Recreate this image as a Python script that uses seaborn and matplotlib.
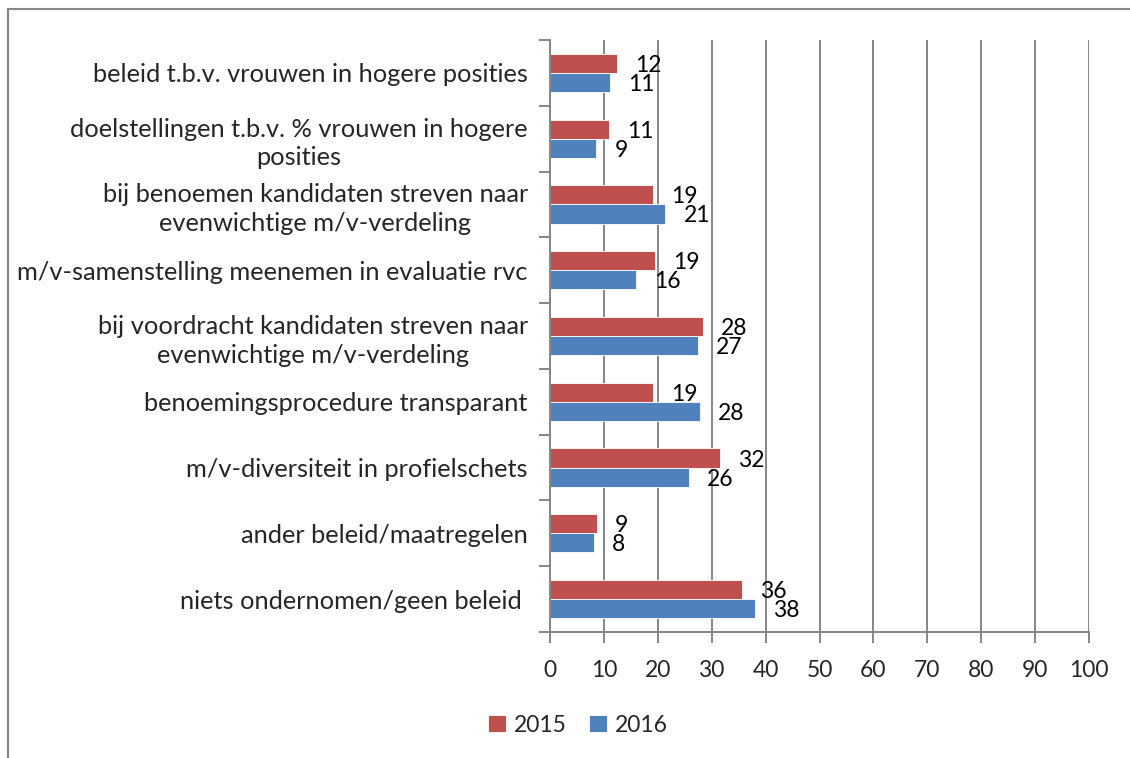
import seaborn as sns
import matplotlib.pyplot as plt
import pandas as pd
from matplotlib.lines import Line2D

# categories top -> bottom
categories = [
    'beleid t.b.v. vrouwen in hogere posities',
    'doelstellingen t.b.v. % vrouwen in hogere\nposities',
    'bij benoemen kandidaten streven naar\nevenwichtige m/v-verdeling',
    'm/v-samenstelling meenemen in evaluatie rvc',
    'bij voordracht kandidaten streven naar\nevenwichtige m/v-verdeling',
    'benoemingsprocedure transparant',
    'm/v-diversiteit in profielschets',
    'ander beleid/maatregelen',
    'niets ondernomen/geen beleid ',
]
years = ['2015', '2016']
vals_2015 = [12.4, 10.9, 19.2, 19.4, 28.4, 19.2, 31.6, 8.7, 35.7]
vals_2016 = [11.2, 8.6, 21.4, 15.9, 27.4, 27.8, 25.8, 8.1, 38.1]
x_ticks = [0, 10, 20, 30, 40, 50, 60, 70, 80, 90, 100]
colors = ['#C0504D', '#4F81BD']

df = pd.DataFrame({
    'cat': categories * 2,
    'year': ['2015'] * len(categories) + ['2016'] * len(categories),
    'val': vals_2015 + vals_2016,
})

sns.set_style('white')
plt.rcParams['font.family'] = ['Lato', 'DejaVu Sans']
fs = 18.3      # category labels
fs_num = 16.5  # numbers, legend
grid_c = '#868686'

fig = plt.figure(figsize=(11.3, 7.58), dpi=100)
ax = fig.add_axes([550 / 1130, 1 - 632 / 758, (1089 - 550) / 1130, (632 - 40) / 758])

sns.barplot(data=df, y='cat', x='val', hue='year', order=categories,
            hue_order=years, palette=colors, orient='h', width=0.58,
            saturation=1, ax=ax, legend=True, edgecolor='white', linewidth=0.6)

for cont in ax.containers:
    texts = ax.bar_label(cont, fmt='%.0f', padding=13, fontsize=fs_num, color='black')
    for t in texts:
        t.set_va('center_baseline')

ax.set_xlim(0, 100)
ax.set_ylim(len(categories) - 0.5, -0.5)
ax.set_xticks(x_ticks)
ax.set_xticklabels([str(t) for t in x_ticks], fontsize=fs_num)
ax.xaxis.grid(True, color=grid_c, linewidth=1.4)
ax.set_axisbelow(True)
ax.set_xlabel('')
ax.set_ylabel('')

ax.set_yticks(range(len(categories)))
ax.set_yticklabels(categories, fontsize=fs, multialignment='center', linespacing=1.3)
ax.set_yticks([i - 0.5 for i in range(len(categories) + 1)], minor=True)
ax.tick_params(axis='y', which='major', length=0, pad=16)
ax.tick_params(axis='y', which='minor', length=8, color=grid_c, width=1.4, left=True)
ax.tick_params(axis='x', length=8, color=grid_c, width=1.4, bottom=True, pad=12)

for side in ['top', 'right']:
    ax.spines[side].set_visible(False)
for side in ['left', 'bottom']:
    ax.spines[side].set_color(grid_c)
    ax.spines[side].set_linewidth(1.4)

handles, labels = ax.get_legend_handles_labels()
ax.legend(handles, labels, loc='center', bbox_to_anchor=(578 / 1130, 1 - 725 / 758),
          bbox_transform=fig.transFigure, ncol=2, frameon=False, fontsize=fs_num,
          handlelength=0.75, handleheight=0.75, handletextpad=0.35, columnspacing=1.0)

# outer chart border (partly cut off)
fig.add_artist(Line2D([8 / 1130, 1], [1 - 9 / 758, 1 - 9 / 758], color=grid_c, lw=1.5))
fig.add_artist(Line2D([8 / 1130, 8 / 1130], [0, 1 - 9 / 758], color=grid_c, lw=1.5))

fig.savefig('out.png', dpi=100)
